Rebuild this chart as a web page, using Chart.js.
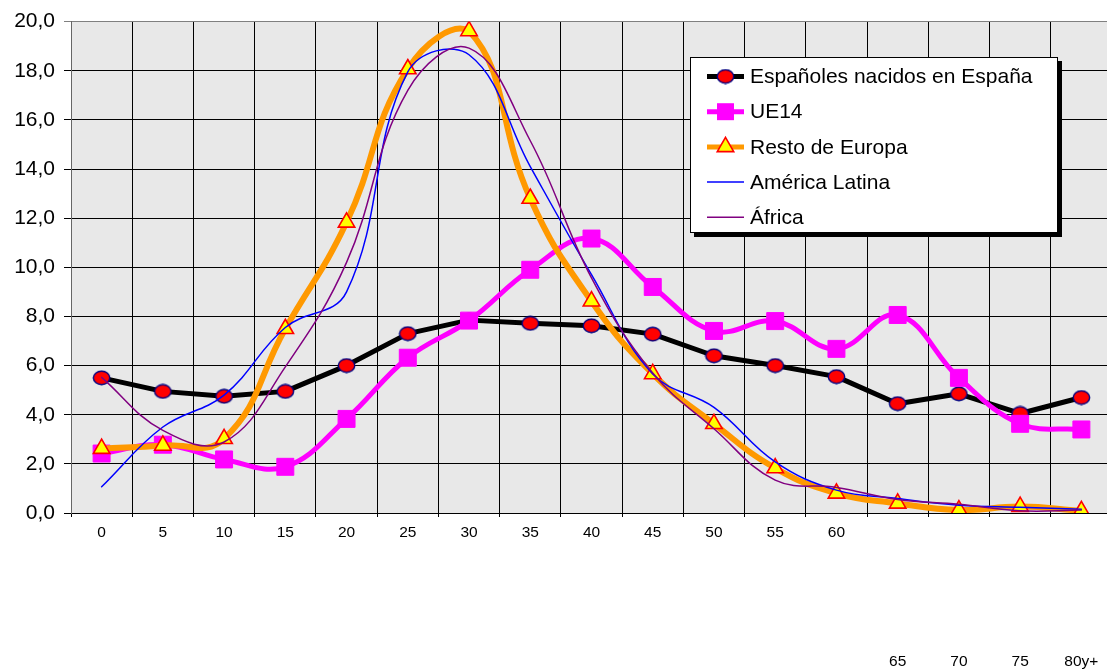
<!DOCTYPE html>
<html>
<head>
<meta charset="utf-8">
<script src="https://cdn.jsdelivr.net/npm/chart.js@4/dist/chart.umd.min.js"></script>
<style>
html,body{margin:0;padding:0;background:#fff;overflow:hidden;width:1107px;height:669px}
#wrap{width:1125px;height:669px;position:relative}
canvas{display:block}
</style>
</head>
<body>
<div id="wrap"><canvas id="c" width="1125" height="669"></canvas></div>
<script>
// ---- data ----
const categories = ['0','5','10','15','20','25','30','35','40','45','50','55','60','65','70','75','80y+'];
const espanoles  = [5.5, 4.95, 4.75, 4.95, 6.0, 7.3, 7.85, 7.72, 7.62, 7.28, 6.4, 6.0, 5.55, 4.45, 4.85, 4.05, 4.7];
const ue14       = [2.42, 2.78, 2.18, 1.88, 3.83, 6.32, 7.83, 9.9, 11.17, 9.2, 7.41, 7.81, 6.68, 8.06, 5.5, 3.63, 3.4];
const restoEuropa= [2.62, 2.75, 3.02, 7.5, 11.83, 18.07, 19.62, 12.8, 8.62, 5.66, 3.63, 1.83, 0.8, 0.39, 0.12, 0.26, 0.09];
const americaLatina = [1.07, 3.5, 4.8, 7.55, 9.0, 17.95, 18.65, 14.1, 9.7, 5.66, 4.3, 2.08, 0.93, 0.59, 0.32, 0.23, 0.15];
const africa     = [5.52, 3.36, 2.89, 5.95, 10.2, 17.2, 18.92, 15.15, 9.57, 5.7, 3.43, 1.34, 1.04, 0.55, 0.36, 0.09, 0.12];
const seriesNames = ['Españoles nacidos en España','UE14','Resto de Europa','América Latina','África'];
const yMin = 0, yMax = 20, yStep = 2;
const loweredFrom = 13; // tick labels 65..80y+ are printed lower in the original

const FONT = 'Arial, "Liberation Sans", sans-serif';
Chart.defaults.font.family = FONT;
Chart.defaults.color = '#000';

// ellipse marker (red with navy border)
function ellipseMarker(){
  const c = document.createElement('canvas');
  c.width = 19; c.height = 16;
  const g = c.getContext('2d');
  g.beginPath();
  g.ellipse(9.5, 8, 8.2, 6.8, 0, 0, Math.PI*2);
  g.fillStyle = '#ff0000'; g.fill();
  g.lineWidth = 1.4; g.strokeStyle = '#000080'; g.stroke();
  return c;
}
const circleImg = ellipseMarker();

const datasets = [
  {label: seriesNames[0], data: espanoles, borderColor:'#000000', borderWidth:5, tension:0,
   pointStyle: circleImg, pointRadius:8, pointBackgroundColor:'#ff0000', pointBorderColor:'#000080', pointBorderWidth:1, order:5},
  {label: seriesNames[1], data: ue14, borderColor:'#ff00ff', borderWidth:5, tension:0.4,
   pointStyle:'rect', pointRadius:12, pointBackgroundColor:'#ff00ff', pointBorderColor:'#ff00ff', pointBorderWidth:1, order:4},
  {label: seriesNames[2], data: restoEuropa, borderColor:'#ff9900', borderWidth:6, tension:0.45,
   pointStyle:'triangle', pointRadius:9.5, pointBackgroundColor:'#ffff00', pointBorderColor:'#ff0000', pointBorderWidth:1.6, order:3},
  {label: seriesNames[3], data: americaLatina, borderColor:'#0000ff', borderWidth:1.5, tension:0.4,
   pointRadius:0, order:2},
  {label: seriesNames[4], data: africa, borderColor:'#800080', borderWidth:1.5, tension:0.4,
   pointRadius:0, order:1}
];

const bgPlugin = {
  id:'plotBg',
  beforeDraw(chart){
    const a = chart.chartArea, ctx = chart.ctx;
    ctx.save(); ctx.fillStyle = '#e8e8e8';
    ctx.fillRect(a.left, a.top, a.right - a.left, a.bottom - a.top);
    ctx.restore();
  }
};

function drawMarker(ctx, ds, x, y){
  if (!ds.pointRadius) return;
  const ps = ds.pointStyle;
  ctx.save();
  if (typeof ps === 'object') {
    ctx.drawImage(ps, x - ps.width/2, y - ps.height/2);
  } else if (ps === 'rect') {
    const s = Math.SQRT1_2 * ds.pointRadius;
    ctx.fillStyle = ds.pointBackgroundColor;
    ctx.fillRect(x - s, y - s, 2*s, 2*s);
  } else if (ps === 'triangle') {
    const r = ds.pointRadius;
    ctx.beginPath();
    for (let k=0;k<3;k++){
      const ang = k*2*Math.PI/3;
      const px = x + Math.sin(ang)*r, py = y - Math.cos(ang)*r;
      if (k===0) ctx.moveTo(px,py); else ctx.lineTo(px,py);
    }
    ctx.closePath();
    ctx.fillStyle = ds.pointBackgroundColor; ctx.fill();
    ctx.lineWidth = ds.pointBorderWidth; ctx.strokeStyle = ds.pointBorderColor; ctx.stroke();
  }
  ctx.restore();
}

const legendPlugin = {
  id:'boxLegend',
  afterDatasetsDraw(chart){
    const ctx = chart.ctx;
    const bx = 690, by = 57, bw = 368, bh = 176;
    ctx.save();
    ctx.fillStyle = '#000'; ctx.fillRect(bx + 4, by + 4, bw, bh);
    ctx.fillStyle = '#fff'; ctx.fillRect(bx, by, bw, bh);
    ctx.strokeStyle = '#000'; ctx.lineWidth = 1; ctx.strokeRect(bx + 0.5, by + 0.5, bw - 1, bh - 1);
    chart.data.datasets.forEach((ds, i) => {
      const cy = 76.5 + i * 35.2;
      ctx.strokeStyle = ds.borderColor;
      ctx.lineWidth = Math.min(ds.borderWidth, 5);
      ctx.beginPath(); ctx.moveTo(707, cy); ctx.lineTo(744, cy); ctx.stroke();
      drawMarker(ctx, ds, 725.5, cy);
      ctx.fillStyle = '#000';
      ctx.font = '21px ' + FONT;
      ctx.textBaseline = 'middle';
      ctx.textAlign = 'left';
      ctx.fillText(ds.label, 750, cy + 1);
    });
    ctx.restore();
  }
};

new Chart(document.getElementById('c'), {
  type: 'line',
  data: { labels: categories, datasets },
  options: {
    responsive: false,
    animation: false,
    devicePixelRatio: 1,
    layout: { padding: { top: 19, right: 7, bottom: 0, left: 0 } },
    plugins: { legend: { display: false }, tooltip: { enabled: false } },
    elements: { line: { borderCapStyle:'round', borderJoinStyle:'round' } },
    scales: {
      x: {
        type: 'category',
        offset: true,
        grid: { offset: true, color: '#000', lineWidth: 1, tickLength: 4 },
        border: { color: '#000', width: 1 },
        ticks: {
          autoSkip: false, maxRotation: 0, minRotation: 0, padding: 5,
          color: '#000',
          font: { size: 15.5, lineHeight: '21.5px' },
          callback: (v, i) => i >= loweredFrom ? ['', '', '', '', '', '', categories[i]] : categories[i]
        },
        afterFit: s => { s.height = 156; }
      },
      y: {
        min: yMin, max: yMax,
        grid: { color: c => (c.tick && c.tick.value === yMax) ? '#808080' : '#000', lineWidth: 1, tickLength: 7 },
        border: { color: '#666', width: 1 },
        ticks: {
          stepSize: yStep, padding: 9, color: '#000',
          font: { size: 21 },
          callback: v => Number(v).toFixed(1).replace('.', ',')
        },
        afterFit: s => { s.width = 71; }
      }
    }
  },
  plugins: [bgPlugin, legendPlugin]
});
</script>
</body>
</html>
